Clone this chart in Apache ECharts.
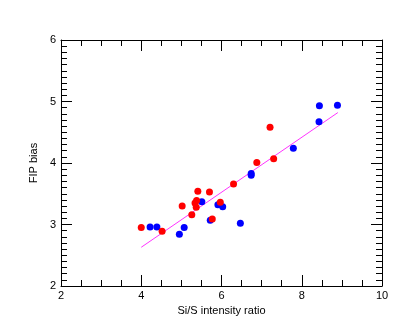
<!DOCTYPE html>
<html><head><meta charset="utf-8">
<script src="https://cdn.jsdelivr.net/npm/echarts@6/dist/echarts.min.js"></script>
<style>html,body{margin:0;padding:0;background:#fff}#c{width:415px;height:332px}</style>
</head><body><div id="c"></div>
<script>
var redX = [4.00, 4.52, 5.02, 5.26, 5.41, 5.38, 5.34, 5.37, 5.70, 5.77, 5.97, 6.30, 6.88, 7.30, 7.21];
var redY = [2.95, 2.89, 3.30, 3.16, 3.54, 3.39, 3.35, 3.28, 3.53, 3.09, 3.36, 3.66, 4.01, 4.07, 4.58];
var blueX = [4.22, 4.39, 4.95, 5.07, 5.51, 5.72, 5.91, 6.03, 6.47, 6.74, 6.74, 7.79, 8.43, 8.44, 8.89];
var blueY = [2.96, 2.96, 2.84, 2.95, 3.37, 3.07, 3.32, 3.29, 3.02, 3.83, 3.80, 4.24, 4.67, 4.93, 4.94];
var fitX = [4.0, 8.9];
var fitY = [2.63, 4.82];
var xTicks = [2, 4, 6, 8, 10];
var yTicks = [2, 3, 4, 5, 6];

function pairs(a, b) { return a.map(function (v, i) { return [v, b[i]]; }); }
var font = 'Liberation Sans, Arial, sans-serif';
function ax(extra, split) {
  return Object.assign({
    axisLine: { show: true, onZero: false, lineStyle: { color: '#000', width: 1 } },
    splitLine: { show: false },
    axisTick: { show: true, inside: true, length: 11, lineStyle: { color: '#000' } },
    minorTick: { show: true, splitNumber: split, length: 6, lineStyle: { color: '#000' } }
  }, extra);
}

var chart = echarts.init(document.getElementById('c'), null, { renderer: 'canvas' });
chart.setOption({
  animation: false,
  grid: { left: 61, right: 33, top: 40, bottom: 46 },
  xAxis: [
    ax({ type: 'value', min: xTicks[0], max: xTicks[xTicks.length - 1], interval: 2, position: 'bottom',
      axisLabel: { color: '#000', fontSize: 11, fontFamily: font, margin: 4 },
      name: 'Si/S intensity ratio', nameLocation: 'middle', nameGap: 14,
      nameTextStyle: { color: '#000', fontSize: 11, fontFamily: font } }, 4),
    ax({ type: 'value', min: xTicks[0], max: xTicks[xTicks.length - 1], interval: 2, position: 'top',
      axisLabel: { show: false } }, 4)
  ],
  yAxis: [
    ax({ type: 'value', min: yTicks[0], max: yTicks[yTicks.length - 1], interval: 1, position: 'left',
      axisLabel: { color: '#000', fontSize: 11, fontFamily: font, margin: 5 },
      name: 'FIP bias', nameLocation: 'middle', nameGap: 16,
      nameTextStyle: { color: '#000', fontSize: 11, fontFamily: font } }, 10),
    ax({ type: 'value', min: yTicks[0], max: yTicks[yTicks.length - 1], interval: 1, position: 'right',
      axisLabel: { show: false } }, 10)
  ],
  series: [
    { type: 'line', data: pairs(fitX, fitY), symbol: 'none', lineStyle: { color: '#ff33ff', width: 1 }, z: 1 },
    { type: 'scatter', data: pairs(redX, redY), symbolSize: 7, itemStyle: { color: '#ff0000', opacity: 1 }, z: 3 },
    { type: 'scatter', data: pairs(blueX, blueY), symbolSize: 7, itemStyle: { color: '#0000ff', opacity: 1 }, z: 2 }
  ]
});
</script></body></html>
